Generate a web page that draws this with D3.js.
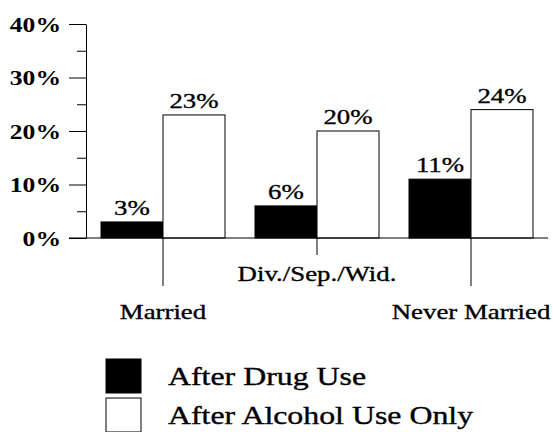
<!DOCTYPE html>
<html>
<head>
<meta charset="utf-8">
<script src="https://cdn.jsdelivr.net/npm/d3@7"></script>
<style>
  body { margin: 0; background: #fff; }
  svg text { font-family: "Liberation Serif", "Times New Roman", serif; fill: #000; stroke: #000; stroke-width: 0.35px; }
</style>
</head>
<body>
<svg width="553" height="432"></svg>
<script>
// data
var categories = ["Married", "Div./Sep./Wid.", "Never Married"];
var series = ["After Drug Use", "After Alcohol Use Only"];
var drugValues = [3, 6, 11];
var alcoholValues = [23, 20, 24];
var yTicks = [0, 10, 20, 30, 40];
var yMinorTicks = [5, 15, 25, 35];
var seriesFill = ["#000", "#fff"];

var svg = d3.select("svg");
var stretch = 1.22; // the scan is wider than tall

var x0 = d3.scaleBand().domain(categories).range([86, 548]).padding(0);
var x1 = d3.scaleBand().domain(series).range([15, x0.bandwidth() - 15]).padding(0);
var y = d3.scaleLinear().domain([0, 40]).range([238, 24]);

var rows = categories.map(function(c, i){
    return {cat: c, vals: [drugValues[i], alcoholValues[i]]};
});

// minor ticks
svg.append("g").attr("transform", "translate(86,0)")
    .call(d3.axisLeft(y).tickValues(yMinorTicks).tickSize(9).tickFormat("").tickSizeOuter(0))
    .call(function(g){ g.select(".domain").remove(); });

// major ticks + axis line
var ya = svg.append("g").attr("transform", "translate(86,0)")
    .call(d3.axisLeft(y).tickValues(yTicks).tickSize(17).tickSizeOuter(0)
        .tickFormat(function(d){ return d + "%"; }));
ya.selectAll("text").remove();
ya.selectAll(".tick").append("text")
    .attr("transform", "translate(-25,0) scale(" + stretch + ",1)")
    .attr("dy", "0.34em").attr("text-anchor", "end")
    .attr("font-size", "21px").attr("font-weight", "bold")
    .style("stroke-width", "0px")
    .text(function(d){ return d + "%"; });

// bars
var groups = svg.selectAll(".grp").data(rows).enter().append("g")
    .attr("class", "grp")
    .attr("transform", function(d){ return "translate(" + x0(d.cat) + ",0)"; });

groups.selectAll("rect").data(function(d){
        return d.vals.map(function(v, j){ return {s: series[j], v: v, j: j}; });
    }).enter().append("rect")
    .attr("x", function(d){ return x1(d.s); })
    .attr("y", function(d){ return y(d.v); })
    .attr("width", x1.bandwidth())
    .attr("height", function(d){ return y(0) - y(d.v); })
    .attr("fill", function(d){ return seriesFill[d.j]; })
    .attr("stroke", "#000").attr("stroke-width", 1);

groups.selectAll(".val").data(function(d){
        return d.vals.map(function(v, j){ return {s: series[j], v: v}; });
    }).enter().append("text")
    .attr("class", "val")
    .attr("transform", function(d){
        return "translate(" + (x1(d.s) + x1.bandwidth() / 2) + "," + (y(d.v) - 7) + ") scale(" + stretch + ",1)";
    })
    .attr("text-anchor", "middle").attr("font-size", "22px")
    .text(function(d){ return d.v + "%"; });

// baseline
svg.append("line").attr("x1", 69).attr("x2", 548)
    .attr("y1", y(0)).attr("y2", y(0)).attr("stroke", "#000");

// category axis with staggered labels
var xa = svg.append("g").attr("transform", "translate(0," + y(0) + ")")
    .call(d3.axisBottom(x0).tickSize(48).tickSizeOuter(0));
xa.select(".domain").remove();
xa.selectAll(".tick line").attr("y2", function(d, i){ return i % 2 ? 17 : 48; });
xa.selectAll(".tick text").remove();
xa.selectAll(".tick").append("text")
    .attr("transform", function(d, i){
        return "translate(0," + (i % 2 ? 43 : 81) + ") scale(" + stretch + ",1)";
    })
    .attr("text-anchor", "middle").attr("font-size", "22px")
    .text(function(d){ return d; });

// legend
var legend = svg.selectAll(".leg").data(series).enter().append("g")
    .attr("class", "leg")
    .attr("transform", function(d, i){ return "translate(106," + (359 + i * 39) + ")"; });
legend.append("rect").attr("width", 35).attr("height", 34)
    .attr("fill", function(d, i){ return seriesFill[i]; })
    .attr("stroke", "#000");
legend.append("text")
    .attr("transform", "translate(62,26) scale(1.3,1)")
    .attr("font-size", "24.5px")
    .text(function(d){ return d; });
</script>
</body>
</html>
